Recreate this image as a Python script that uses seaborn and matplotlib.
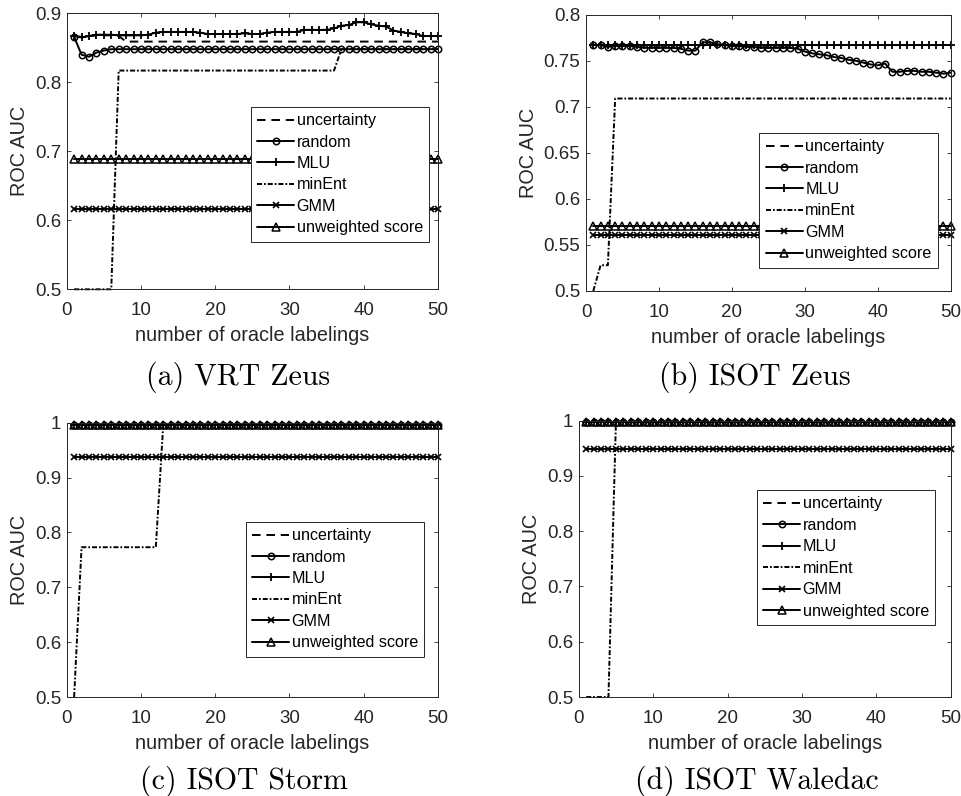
import matplotlib
matplotlib.use("Agg")
import matplotlib.pyplot as plt
import seaborn as sns
from matplotlib.ticker import FuncFormatter, MultipleLocator

# number of oracle labelings on the x axis
labelings = list(range(1, 51))

methods = ["uncertainty", "random", "MLU", "minEnt", "GMM", "unweighted score"]

# ---- (a) VRT Zeus ----
vrt_uncertainty = [0.867, 0.866, 0.867, 0.868, 0.868, 0.868, 0.867, 0.859, 0.859, 0.859,
                   0.859, 0.859, 0.859, 0.859, 0.859, 0.859, 0.859, 0.859, 0.859, 0.859,
                   0.859, 0.859, 0.859, 0.859, 0.859, 0.859, 0.859, 0.859, 0.859, 0.859,
                   0.859, 0.859, 0.859, 0.859, 0.859, 0.859, 0.859, 0.859, 0.859, 0.859,
                   0.859, 0.859, 0.859, 0.859, 0.859, 0.859, 0.859, 0.859, 0.859, 0.859]
vrt_random = [0.866, 0.840, 0.837, 0.843, 0.846, 0.848, 0.848, 0.848, 0.848, 0.848,
              0.848, 0.848, 0.848, 0.848, 0.848, 0.848, 0.848, 0.848, 0.848, 0.848,
              0.848, 0.848, 0.848, 0.848, 0.848, 0.848, 0.848, 0.848, 0.848, 0.848,
              0.848, 0.848, 0.848, 0.848, 0.848, 0.848, 0.848, 0.848, 0.848, 0.848,
              0.848, 0.848, 0.848, 0.848, 0.848, 0.848, 0.848, 0.848, 0.848, 0.848]
vrt_mlu = [0.867, 0.865, 0.867, 0.869, 0.869, 0.869, 0.868, 0.868, 0.868, 0.868,
           0.869, 0.872, 0.873, 0.873, 0.873, 0.873, 0.873, 0.872, 0.870, 0.870,
           0.870, 0.870, 0.870, 0.871, 0.870, 0.870, 0.872, 0.873, 0.873, 0.873,
           0.873, 0.876, 0.876, 0.876, 0.876, 0.878, 0.882, 0.883, 0.887, 0.887,
           0.884, 0.882, 0.881, 0.875, 0.873, 0.871, 0.870, 0.867, 0.867, 0.867]
vrt_minent = [0.500, 0.500, 0.500, 0.500, 0.500, 0.500, 0.817, 0.817, 0.817, 0.817,
              0.817, 0.817, 0.817, 0.817, 0.817, 0.817, 0.817, 0.817, 0.817, 0.817,
              0.817, 0.817, 0.817, 0.817, 0.817, 0.817, 0.817, 0.817, 0.817, 0.817,
              0.817, 0.817, 0.817, 0.817, 0.817, 0.817, 0.848, 0.848, 0.848, 0.848,
              0.848, 0.848, 0.848, 0.848, 0.848, 0.848, 0.848, 0.848, 0.848, 0.848]
vrt_gmm = [0.617] * 50
vrt_unweighted = [0.689] * 50

# ---- (b) ISOT Zeus ----
zeus_uncertainty = [0.767] * 50
zeus_random = [0.767, 0.767, 0.765, 0.766, 0.766, 0.766, 0.765, 0.764, 0.764, 0.764,
               0.764, 0.764, 0.763, 0.761, 0.761, 0.770, 0.770, 0.768, 0.767, 0.766,
               0.766, 0.765, 0.765, 0.764, 0.764, 0.764, 0.764, 0.764, 0.763, 0.760,
               0.758, 0.757, 0.756, 0.754, 0.753, 0.751, 0.750, 0.748, 0.746, 0.745,
               0.747, 0.738, 0.738, 0.739, 0.739, 0.738, 0.738, 0.737, 0.736, 0.737]
zeus_mlu = [0.767] * 50
zeus_minent = [0.500, 0.528, 0.528, 0.709, 0.709, 0.709, 0.709, 0.709, 0.709, 0.709,
               0.709, 0.709, 0.709, 0.709, 0.709, 0.709, 0.709, 0.709, 0.709, 0.709,
               0.709, 0.709, 0.709, 0.709, 0.709, 0.709, 0.709, 0.709, 0.709, 0.709,
               0.709, 0.709, 0.709, 0.709, 0.709, 0.709, 0.709, 0.709, 0.709, 0.709,
               0.709, 0.709, 0.709, 0.709, 0.709, 0.709, 0.709, 0.709, 0.709, 0.709]
zeus_gmm = [0.561] * 50
zeus_unweighted = [0.571] * 50

# ---- (c) ISOT Storm ----
storm_uncertainty = [0.996] * 50
storm_random = [0.996] * 50
storm_mlu = [0.996] * 50
storm_minent = [0.500, 0.773, 0.773, 0.773, 0.773, 0.773, 0.773, 0.773, 0.773, 0.773,
                0.773, 0.773, 0.996, 0.996, 0.996, 0.996, 0.996, 0.996, 0.996, 0.996,
                0.996, 0.996, 0.996, 0.996, 0.996, 0.996, 0.996, 0.996, 0.996, 0.996,
                0.996, 0.996, 0.996, 0.996, 0.996, 0.996, 0.996, 0.996, 0.996, 0.996,
                0.996, 0.996, 0.996, 0.996, 0.996, 0.996, 0.996, 0.996, 0.996, 0.996]
storm_gmm = [0.937] * 50
storm_unweighted = [0.996] * 50

# ---- (d) ISOT Waledac ----
waledac_uncertainty = [0.997] * 50
waledac_random = [0.997] * 50
waledac_mlu = [0.997] * 50
waledac_minent = [0.500, 0.500, 0.500, 0.500, 0.997, 0.997, 0.997, 0.997, 0.997, 0.997,
                  0.997, 0.997, 0.997, 0.997, 0.997, 0.997, 0.997, 0.997, 0.997, 0.997,
                  0.997, 0.997, 0.997, 0.997, 0.997, 0.997, 0.997, 0.997, 0.997, 0.997,
                  0.997, 0.997, 0.997, 0.997, 0.997, 0.997, 0.997, 0.997, 0.997, 0.997,
                  0.997, 0.997, 0.997, 0.997, 0.997, 0.997, 0.997, 0.997, 0.997, 0.997]
waledac_gmm = [0.948] * 50
waledac_unweighted = [0.997] * 50

captions = ["(a) VRT Zeus", "(b) ISOT Zeus", "(c) ISOT Storm", "(d) ISOT Waledac"]

sns.set_theme(style="ticks")
plt.rcParams["font.family"] = ["Liberation Sans", "DejaVu Sans"]

INK = "#262626"
W, H = 961, 796

# line appearance for each method (line style, marker)
LW = 1.4
styles = {
    "uncertainty": dict(linestyle=(0, (4.4, 3.0)), marker=None),
    "random": dict(linestyle="-", marker="o", markersize=4.6, markerfacecolor="none",
                   markeredgewidth=1.1),
    "MLU": dict(linestyle="-", marker="+", markersize=6.0, markeredgewidth=1.3),
    "minEnt": dict(linestyle=(0, (2.6, 1.0, 0.9, 1.0)), marker=None),
    "GMM": dict(linestyle="-", marker="x", markersize=4.8, markeredgewidth=1.2),
    "unweighted score": dict(linestyle="-", marker="^", markersize=5.2, markerfacecolor="none",
                             markeredgewidth=1.1),
}

panels = [
    dict(series=[vrt_uncertainty, vrt_random, vrt_mlu, vrt_minent, vrt_gmm, vrt_unweighted],
         rect=(66.7, 13.3, 438.0, 289.3), ylim=(0.5, 0.9), ystep=0.1,
         legend=(250.7, 106.7), caption=(238, 377)),
    dict(series=[zeus_uncertainty, zeus_random, zeus_mlu, zeus_minent, zeus_gmm, zeus_unweighted],
         rect=(586.0, 14.7, 950.7, 291.0), ylim=(0.5, 0.8), ystep=0.05,
         legend=(759.3, 132.7), caption=(755, 377)),
    dict(series=[storm_uncertainty, storm_random, storm_mlu, storm_minent, storm_gmm, storm_unweighted],
         rect=(66.7, 422.7, 438.0, 697.0), ylim=(0.5, 1.0), ystep=0.1,
         legend=(245.7, 521.7), caption=(244, 781)),
    dict(series=[waledac_uncertainty, waledac_random, waledac_mlu, waledac_minent, waledac_gmm, waledac_unweighted],
         rect=(578.7, 420.7, 950.7, 697.0), ylim=(0.5, 1.0), ystep=0.1,
         legend=(756.7, 490.0), caption=(757, 781)),
]

fig = plt.figure(figsize=(W / 100, H / 100), dpi=100)

fmt = FuncFormatter(lambda v, _: f"{v:g}")

for panel, caption in zip(panels, captions):
    x0, y0, x1, y1 = panel["rect"]
    ax = fig.add_axes([x0 / W, 1 - y1 / H, (x1 - x0) / W, (y1 - y0) / H])

    for name, values in zip(methods, panel["series"]):
        st = dict(styles[name])
        st.setdefault("markeredgewidth", 1.0)
        sns.lineplot(x=labelings, y=values, ax=ax, color="black", linewidth=LW,
                     markeredgecolor="black", label=name, clip_on=False, **st)

    ax.set_xlim(0, 50)
    ax.set_ylim(*panel["ylim"])
    ax.xaxis.set_major_locator(MultipleLocator(10))
    ax.yaxis.set_major_locator(MultipleLocator(panel["ystep"]))
    ax.yaxis.set_major_formatter(fmt)
    ax.xaxis.set_major_formatter(fmt)
    ax.tick_params(direction="in", top=True, right=True, length=2.8, width=0.6,
                   color=INK, labelcolor=INK, labelsize=13.5)
    ax.tick_params(axis="x", pad=9.5)
    ax.tick_params(axis="y", pad=4)
    for s in ax.spines.values():
        s.set_visible(True)
        s.set_color(INK)
        s.set_linewidth(0.7)
    ax.set_xlabel("number of oracle labelings", fontsize=14.3, color=INK, labelpad=5)
    ax.set_ylabel("ROC AUC", fontsize=14.3, color=INK, labelpad=4)

    lx, ly = panel["legend"]
    leg = ax.legend(loc="upper left", bbox_to_anchor=(lx / W, 1 - ly / H),
                    bbox_transform=fig.transFigure, borderaxespad=0, frameon=True,
                    fancybox=False, framealpha=1, edgecolor=INK, fontsize=11.6,
                    handlelength=2.3, handletextpad=0.15, labelspacing=0.4,
                    borderpad=0.4, numpoints=1)
    leg.get_frame().set_linewidth(0.7)
    for t in leg.get_texts():
        t.set_color("black")

    cx, cy = panel["caption"]
    fig.text(cx / W, 1 - cy / H, caption, ha="center", va="center",
             fontsize=21.5, family="cmr10", color="black")

fig.savefig("out.png", dpi=100)
